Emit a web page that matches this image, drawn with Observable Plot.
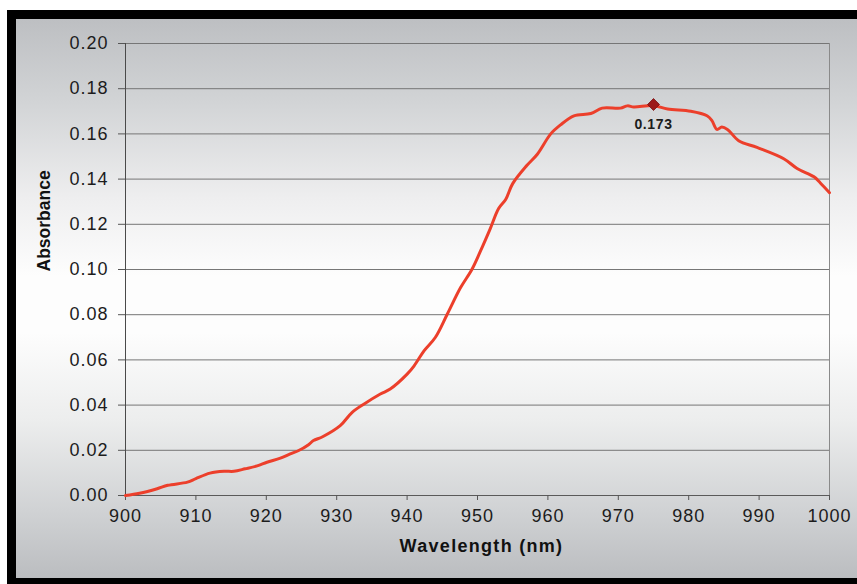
<!DOCTYPE html>
<html>
<head>
<meta charset="utf-8">
<script src="https://cdn.jsdelivr.net/npm/d3@7"></script>
<script src="https://cdn.jsdelivr.net/npm/@observablehq/plot@0.6"></script>
<style>
  html, body { margin: 0; padding: 0; background: #ffffff; width: 857px; height: 584px; overflow: hidden; }
  #frame {
    position: absolute; left: 7px; top: 10px; width: 870px; height: 559px;
    border-left: 9px solid #000; border-top: 9px solid #000; border-bottom: 9px solid #000;
    background: linear-gradient(to bottom, #bdbfc2 0%, #d2d4d6 15%, #eeeeef 32%, #fdfdfd 46%, #fdfdfd 56%, #eceded 72%, #d0d2d4 88%, #bbbdc0 100%);
  }
  #chart { position: absolute; left: 0; top: 0; }
</style>
</head>
<body>
<div id="frame"></div>
<div id="chart"></div>
<script>
// Wavelength (nm) and absorbance
const wavelength = [900,902,904.5,906,908.8,910,912,914,915.4,917,918.7,920.1,922,923.4,924.6,926,926.7,928,930.5,932.2,933.9,936.2,937.6,940,941,942.4,944,945.7,947.6,949.2,950.4,951.8,953,954,955,957,958.5,960.4,961.8,963.7,966.1,967.7,970.3,971.3,972.2,975,977,980.3,982.6,983.3,984,984.7,985.5,987.1,989.7,993.5,995.4,997.8,998.7,1000];
const absorbance = [0,0.001,0.003,0.0045,0.0059,0.0075,0.0099,0.0107,0.0107,0.0118,0.0131,0.0147,0.0165,0.0184,0.0199,0.0225,0.0243,0.026,0.0309,0.0368,0.0405,0.0449,0.0471,0.0537,0.0574,0.064,0.0699,0.0802,0.092,0.100,0.108,0.118,0.127,0.131,0.138,0.146,0.151,0.160,0.164,0.168,0.169,0.1714,0.1714,0.1724,0.1719,0.1725,0.171,0.170,0.168,0.1659,0.162,0.163,0.162,0.157,0.154,0.149,0.1447,0.141,0.1383,0.134];
const peakWavelength = [975];
const peakValue = [0.173];
const peakLabel = ["0.173"];
const xTicks = [900,910,920,930,940,950,960,970,980,990,1000];
const yTicks = [0,0.02,0.04,0.06,0.08,0.10,0.12,0.14,0.16,0.18,0.20];
const xTitle = "Wavelength (nm)";
const yTitle = "Absorbance";

const series = wavelength.map((w, i) => ({w, a: absorbance[i]}));
const peak = peakWavelength.map((w, i) => ({w, a: peakValue[i], label: peakLabel[i]}));

const chart = Plot.plot({
  width: 857,
  height: 584,
  marginLeft: 125,
  marginRight: 28,
  marginTop: 43,
  marginBottom: 89,
  style: {background: "transparent", fontFamily: "Liberation Sans, Arial, sans-serif", fontSize: "18px", color: "#1c1c1c", overflow: "visible"},
  x: {domain: [900, 1000]},
  y: {domain: [0, 0.2]},
  marks: [
    Plot.gridY(yTicks, {stroke: "#767676", strokeOpacity: 1, strokeWidth: 1}),
    Plot.ruleX([1000], {stroke: "#8a8a8a", strokeWidth: 1}),
    Plot.ruleX([900], {stroke: "#4a4a4a", strokeWidth: 1}),
    Plot.ruleY([0], {stroke: "#5a5a5a", strokeWidth: 1}),
    Plot.axisY(yTicks, {tickFormat: d3.format(".2f"), tickSize: 7, tickPadding: 10, label: null, stroke: "#555", fill: "#1c1c1c"}),
    Plot.axisX(xTicks, {tickFormat: d => String(d), tickSize: 5, tickPadding: 9, label: null, stroke: "#555", fill: "#1c1c1c"}),
    Plot.line(series, {x: "w", y: "a", stroke: "#ec3f2b", strokeWidth: 3, curve: "catmull-rom"}),
    Plot.dot(peak, {x: "w", y: "a", symbol: "diamond2", r: 5.4, fill: "#9c1a1a", stroke: "#7a1010", strokeWidth: 0.8}),
    Plot.text(peak, {x: "w", y: "a", text: "label", dy: 20, fontFamily: "Liberation Sans", fontWeight: "bold", fontSize: 14, fill: "#1c1c1c"}),
    Plot.text([xTitle], {frameAnchor: "bottom", dy: 56, dx: 4, fontFamily: "Liberation Sans", fontWeight: "bold", fontSize: 18, fill: "#111"}),
    Plot.text([yTitle], {frameAnchor: "left", dx: -81, dy: 2, rotate: -90, fontFamily: "Liberation Sans", fontWeight: "bold", fontSize: 17.5, fill: "#111"})
  ]
});
// reference text is slightly horizontally stretched: widen via letter spacing
d3.select(chart).selectAll("g[aria-label='y-axis tick label'] text, g[aria-label='x-axis tick label'] text").attr("letter-spacing", "1px");
d3.select(chart).selectAll("g[aria-label='text'] text").filter(function () { return this.textContent === xTitle; }).attr("letter-spacing", "1.3px");
d3.select(chart).selectAll("g[aria-label='text'] text").filter(function () { return this.textContent === peakLabel[0]; }).attr("letter-spacing", "0.6px");
document.getElementById("chart").appendChild(chart);
</script>
</body>
</html>
